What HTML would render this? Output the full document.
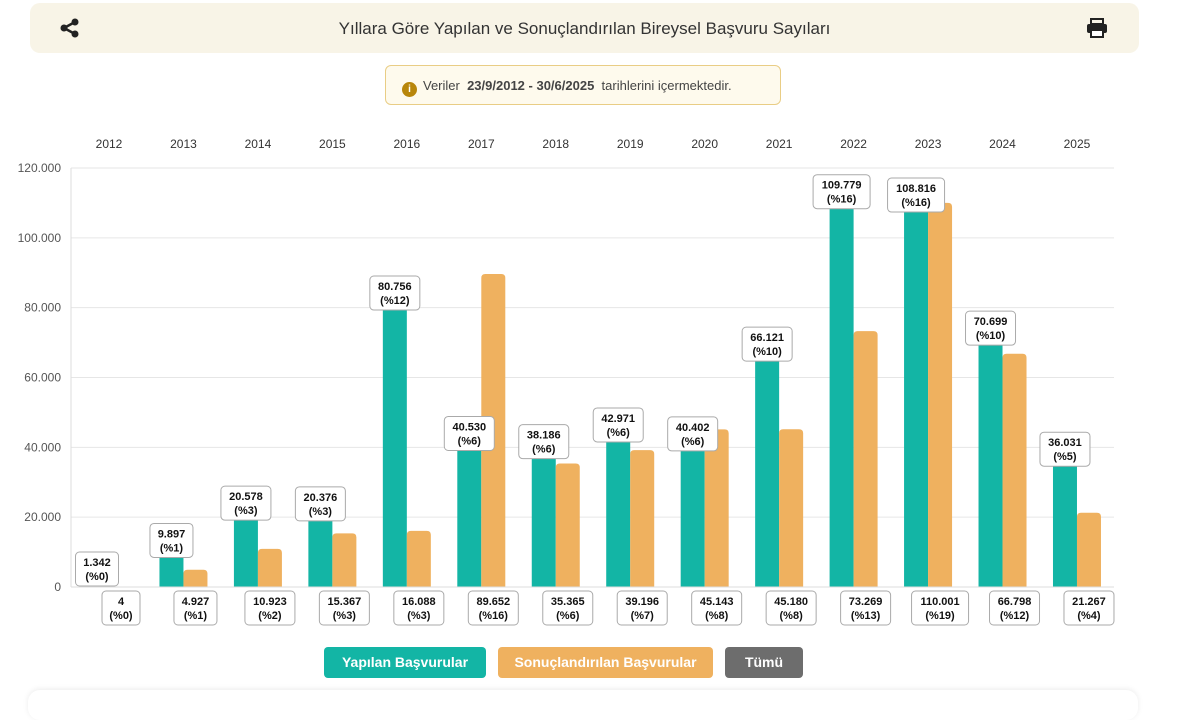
<!DOCTYPE html>
<html><head><meta charset="utf-8">
<style>
body{margin:0;width:1187px;height:706px;background:#fff;font-family:"Liberation Sans",sans-serif;overflow:hidden;position:relative}
.hdr{position:absolute;left:30px;top:3px;width:1109px;height:50px;background:#f8f4e7;border-radius:10px}
.hdr .t{position:absolute;left:0;right:0;top:16px;text-align:center;font-size:17px;color:#333}
.info{position:absolute;left:385px;top:65px;width:396px;height:40px;box-sizing:border-box;background:#fefaed;border:1px solid #e9cd85;border-radius:6px;font-size:13px;color:#444;line-height:40px;padding-left:16px}
.info i{display:inline-block;width:15px;height:15px;border-radius:50%;background:#b8860b;color:#fff;font-size:10px;line-height:15px;text-align:center;font-style:normal;font-weight:bold;margin-right:6px;vertical-align:-2px}
.btn{position:absolute;top:647px;height:31px;border-radius:4px;color:#fff;font-size:14px;font-weight:bold;line-height:31px;text-align:center}
.card{position:absolute;left:28px;top:690px;width:1110px;height:30px;border-radius:12px;box-shadow:0 -1px 6px rgba(0,0,0,0.08);background:#fff}
</style></head><body>
<div class="hdr">
<svg style="position:absolute;left:30px;top:15px" width="20" height="20" viewBox="0 0 20 20"><circle cx="4" cy="10" r="3.5" fill="#222"/><circle cx="15" cy="4" r="3.5" fill="#222"/><circle cx="15" cy="16" r="3.5" fill="#222"/><path d="M4 10L15 4M4 10L15 16" stroke="#222" stroke-width="2.5"/></svg>
<div class="t">Yıllara Göre Yapılan ve Sonuçlandırılan Bireysel Başvuru Sayıları</div>
<svg style="position:absolute;left:1056px;top:15px" width="22" height="20" viewBox="0 0 22 20"><rect x="5" y="1" width="12" height="5" fill="none" stroke="#222" stroke-width="2"/><rect x="1" y="6" width="20" height="9" rx="2" fill="#222"/><rect x="5" y="12" width="12" height="7" fill="#fff" stroke="#222" stroke-width="2"/></svg>
</div>
<div class="info"><i>i</i>Veriler &nbsp;<b>23/9/2012 - 30/6/2025</b>&nbsp; tarihlerini içermektedir.</div>
<svg id="chart" style="position:absolute;left:0;top:0" width="1187" height="640"></svg>
<div class="btn" style="left:324px;width:162px;background:#13b5a5">Yapılan Başvurular</div>
<div class="btn" style="left:498px;width:215px;background:#efb15f">Sonuçlandırılan Başvurular</div>
<div class="btn" style="left:725px;width:78px;background:#6d6d6d">Tümü</div>
<div class="card"></div>
<script>
const years=["2012","2013","2014","2015","2016","2017","2018","2019","2020","2021","2022","2023","2024","2025"];
const applied=[1342,9897,20578,20376,80756,40530,38186,42971,40402,66121,109779,108816,70699,36031];
const appliedPct=[0,1,3,3,12,6,6,6,6,10,16,16,10,5];
const concluded=[4,4927,10923,15367,16088,89652,35365,39196,45143,45180,73269,110001,66798,21267];
const concludedPct=[0,1,2,3,3,16,6,7,8,8,13,19,12,4];
const yTicks=[0,20000,40000,60000,80000,100000,120000];
const NS="http://www.w3.org/2000/svg";
const svg=document.getElementById('chart');
const y0=587,yTop=168,yMax=120000,left=71,right=1114;
const ys=v=>y0-(v/yMax)*(y0-yTop);
const xs=i=>109+i*74.46;
const fmt=v=>v.toLocaleString('en-US').replace(/,/g,'.');
function mk(t,a){const e=document.createElementNS(NS,t);for(const k in a)e.setAttribute(k,a[k]);svg.appendChild(e);return e;}
yTicks.forEach(v=>{
 const l=mk('line',{x1:left,x2:right,y1:ys(v),y2:ys(v),stroke:'#e6e6e6'});
 
 
 const t=mk('text',{x:61,y:ys(v)+4,'text-anchor':'end','font-size':12,fill:'#555'});
 t.textContent=fmt(v);
 
 
});
mk('line',{x1:left,x2:left,y1:yTop,y2:y0,stroke:'#ddd'});
years.forEach((yr,i)=>{
 const cx=xs(i);
 const t=mk('text',{x:cx,y:148,'text-anchor':'middle','font-size':12,fill:'#333'});
 t.textContent=yr;
 
 
 const h1=y0-ys(applied[i]);
 const b1=mk('path',{d:`M${cx-24} ${y0}V${y0-h1+Math.min(4,h1)}q0 -${Math.min(4,h1)} 4 -${Math.min(4,h1)}h16q4 0 4 ${Math.min(4,h1)}V${y0}Z`,fill:'#13b5a5'});
 
 
 const h2=y0-ys(concluded[i]);
 const r2=Math.min(4,h2);
 const b2=mk('path',{d:`M${cx} ${y0}V${y0-h2+r2}q0 -${r2} 4 -${r2}h16q4 0 4 ${r2}V${y0}Z`,fill:'#efb15f'});
 
 
 // labels
 function lab(x,top,v,p,name){
  const w=Math.max(38,fmt(v).length*7+8);
  const r=mk('rect',{x:x-w/2,y:top,width:w,height:34,rx:4,fill:'#fff',stroke:'#aaa'});
  
  
  const a=mk('text',{x:x,y:top+14,'text-anchor':'middle','font-size':11,'font-weight':'bold',fill:'#111'});a.textContent=fmt(v);
  const b=mk('text',{x:x,y:top+28,'text-anchor':'middle','font-size':11,'font-weight':'bold',fill:'#111'});b.textContent='(%'+p+')';
 }
 lab(cx-12,Math.min(ys(applied[i])-29,552),applied[i],appliedPct[i],'applied-value-label');
 lab(cx+12,591,concluded[i],concludedPct[i],'concluded-value-label');
});
mk('line',{x1:left,x2:right,y1:y0,y2:y0,stroke:'#ddd'});
</script>
</body></html>
